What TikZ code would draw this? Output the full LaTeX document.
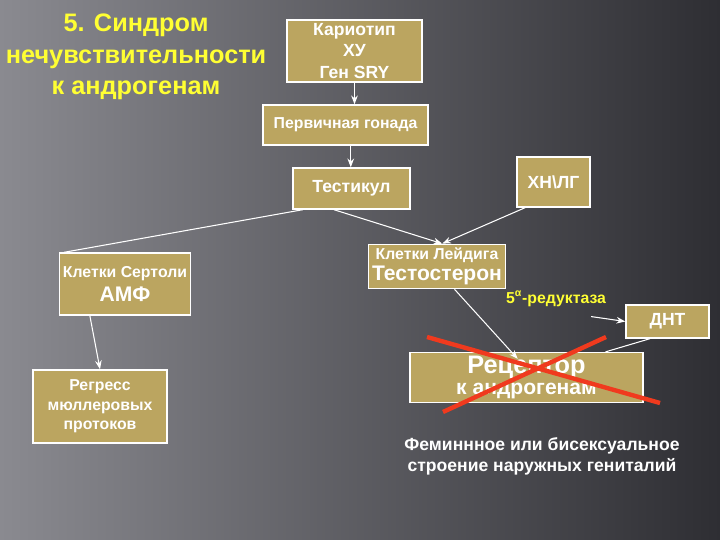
\documentclass[tikz,border=0pt]{standalone}
\usepackage{fontspec}
\setmainfont{Liberation Sans}
\usetikzlibrary{arrows.meta}
\begin{document}
\begin{tikzpicture}[x=0.02cm,y=-0.02cm,
  box/.style={draw=white,line width=0.8pt,fill=tan,text=white,font=\bfseries,align=center,inner sep=2pt},
  arr/.style={draw=white,line width=0.6pt,-{Stealth[length=5pt]}},
  ln/.style={draw=white,line width=0.6pt}]
\definecolor{tan}{HTML}{BBA560}
\definecolor{bgd}{HTML}{2E2E33}
\definecolor{bgl}{HTML}{8A8A90}
\definecolor{ylw}{HTML}{FFFF33}
\definecolor{redx}{HTML}{F03A1E}
\shade[shading angle=45,left color=bgl,right color=bgd] (0,0) rectangle (720,540);
\useasboundingbox (0,0) rectangle (720,540);
\node[font=\bfseries\Large,text=ylw,align=center] (title) at (136,57) {5. Синдром\\нечувствительности\\к андрогенам};
\node[box,minimum width=2.7cm,minimum height=1.24cm] (kar) at (354.5,51) {Кариотип\\ХУ\\Ген SRY};
\node[box,minimum width=3.3cm,minimum height=0.8cm,font=\bfseries\small] (gon) at (345.5,125) {Первичная гонада};
\node[box,minimum width=2.34cm,minimum height=0.82cm] (tes) at (351.5,188.5) {Тестикул};
\node[box,minimum width=1.46cm,minimum height=1.0cm] (hn) at (553.5,182) {ХН\textbackslash ЛГ};
\node[box,minimum width=2.4cm,minimum height=1.24cm,align=center] (ser) at (125,284) {{\small Клетки Сертоли}\\[2pt]{\large АМФ}};
\node[box,minimum width=2.6cm,minimum height=0.82cm] (ley) at (437,266.5) {{\small Клетки Лейдига}\\{\large Тестостерон}};
\node[box,minimum width=1.66cm,minimum height=0.66cm] (dnt) at (667.5,321.5) {ДНТ};
\node[box,minimum width=4.66cm,minimum height=0.9cm] (rec) at (526.5,377.5) {{\Large Рецептор}\\{\large к андрогенам}};
\node[box,minimum width=2.68cm,minimum height=1.46cm,font=\bfseries\small] (reg) at (100,406.5) {Регресс\\мюллеровых\\протоков};
\node[font=\bfseries\small,text=ylw] (red) at (556,299) {5\textsuperscript{α}-редуктаза};
\node[font=\bfseries,text=white,align=center] (fem) at (542,456) {Феминнное или бисексуальное\\строение наружных гениталий};
\draw[arr] (kar.south) -- (kar.south|-gon.north);
\draw[arr] ([xshift=3]gon.south) -- ([xshift=3]gon.south|-tes.north);
\draw[ln] ([xshift=6]tes.south west) -- ([xshift=3]ser.north west);
\draw[arr] ([xshift=-10]tes.south) -- ([xshift=3]ley.north);
\draw[arr] ([xshift=5]hn.south west) -- ([xshift=3]ley.north);
\draw[arr] ([xshift=-20]ser.south) -- ([xshift=0]reg.north);
\draw[arr] ([xshift=10]ley.south) -- ([xshift=-5,yshift=-4]rec.north);
\draw[arr] ([xshift=-12,yshift=-2]red.south east) -- (dnt.west);
\draw[ln] ([xshift=-10]dnt.south) -- ([xshift=45]rec.north);
\coordinate (x1) at (427,337); \coordinate (x2) at (660,403);
\coordinate (x3) at (606,337); \coordinate (x4) at (443,412);
\draw[redx,line width=2.5pt] (x1) -- (x2);
\draw[redx,line width=2.5pt] (x3) -- (x4);
\end{tikzpicture}
\end{document}
